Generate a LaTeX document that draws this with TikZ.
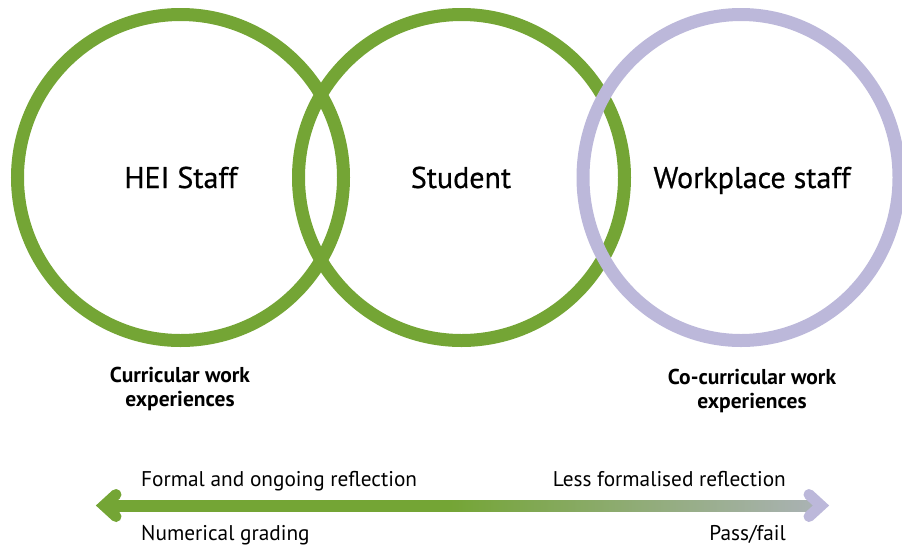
\documentclass[tikz,border=0pt]{standalone}
\usepackage{fontspec}
\setmainfont{PT Sans}
\newfontfamily\mediumfont[FakeBold=0.6]{PT Sans}
\definecolor{leafgreen}{HTML}{74A535}
\definecolor{lilac}{HTML}{BCB8DA}
\definecolor{fadegray}{HTML}{AAB2B4}
\pgfdeclarehorizontalshading{reflectfade}{100bp}{color(0bp)=(leafgreen); color(49bp)=(leafgreen); color(75bp)=(fadegray); color(100bp)=(fadegray)}
\tikzset{
  ring/.style={line width=13pt},
  who/.style={inner sep=0pt, anchor=base, font=\mediumfont\fontsize{30}{36}\selectfont},
  kind/.style={inner sep=0pt, anchor=base, align=center, font=\bfseries\fontsize{21.5}{24}\selectfont},
  scaletext/.style={inner sep=0pt, font=\fontsize{21.3}{24}\selectfont},
  chevron/.style={line width=11pt, line cap=round, line join=miter}
}
\begin{document}
\begin{tikzpicture}[x=1pt, y=-1pt]
    \useasboundingbox (0,0) rectangle (902,547);
    \clip (0,0) rectangle (902,547);

    % the three rings
    \draw[ring, leafgreen] (180.5,177.5) circle (163);
    \draw[ring, leafgreen] (461.5,177.5) circle (163);
    \draw[ring, lilac] (741,177.5) ellipse (158 and 163);

    \node[who] (hei) at (181,188) {HEI Staff};
    \node[who] (student) at (461,188) {Student};
    \node[who] (workplace) at (752,188) {Workplace staff};

    % base anchor sits on the last line
    \node[kind] (curricular) at (180,406) {Curricular work\\experiences};
    \node[kind] (cocurricular) at (752,408) {Co-curricular work\\experiences};

    % reflection scale
    \coordinate (lefttip) at (104,505.5);
    \coordinate (righttip) at (821,505.5);
    \shade[shading=reflectfade] (110,500) rectangle (815,511);
    \draw[chevron, leafgreen] ([shift={(12,-11)}]lefttip) -- (lefttip) -- ([shift={(12,11)}]lefttip);
    \draw[chevron, lilac] ([shift={(-12,-11)}]righttip) -- (righttip) -- ([shift={(-12,11)}]righttip);

    \node[scaletext, anchor=base west] (formal) at (141,486) {Formal and ongoing reflection};
    \node[scaletext, anchor=base east] (lessformal) at (786,486) {Less formalised reflection};
    \node[scaletext, anchor=base west] (numerical) at (141,540) {Numerical grading};
    \node[scaletext, anchor=base east] (passfail) at (786,540) {Pass/fail};
\end{tikzpicture}
\end{document}
